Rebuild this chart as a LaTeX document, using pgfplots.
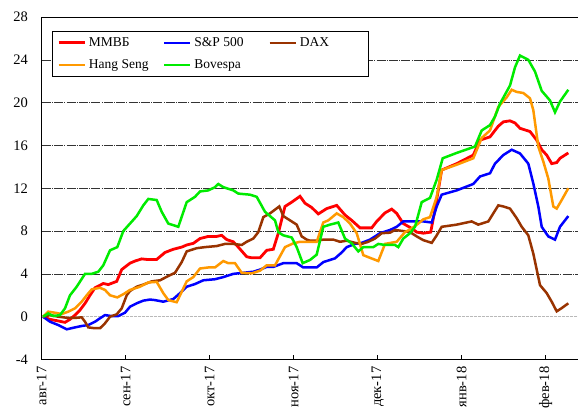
\documentclass[border=0pt]{standalone}
\usepackage{fontspec}
\setmainfont{Liberation Serif}
\usepackage{pgfplots}
\pgfplotsset{compat=1.18}
\definecolor{cRed}{RGB}{255,0,0}
\definecolor{cBlue}{RGB}{0,0,255}
\definecolor{cBrown}{RGB}{153,51,0}
\definecolor{cOrange}{RGB}{255,153,0}
\definecolor{cGreen}{RGB}{0,235,0}

\pgfplotstableread{
x y
5 0
12 -0.25
20.3 -0.4
27 -0.53
32 -0.25
37 0.15
42 0.62
47 1.24
52 2.0
57 2.7
65.3 3.1
70.3 3.0
78.7 3.3
83.7 4.4
92 5.0
97 5.2
103.7 5.4
108.7 5.35
118.7 5.35
127 6.0
135.3 6.3
143.7 6.5
148.7 6.7
155.3 6.85
162 7.3
170.3 7.5
178.7 7.5
183.7 7.6
188.7 7.2
195.3 7.0
200.3 6.5
208.7 5.6
213.7 5.5
222 5.5
228.7 6.2
235.3 6.3
240.3 7.8
247 10.3
253.7 10.7
262 11.25
267 10.6
273.7 10.2
280.3 9.6
288.7 10.1
298.7 10.4
307 9.5
313.7 9.0
322 8.3
333.7 8.3
338.7 8.9
347 9.7
353.7 10.05
358.7 9.65
365.3 8.7
373.7 8.25
378.7 7.9
385.3 7.8
392.7 7.9
397 10.0
403.7 13.7
418.7 14.3
435.3 15.1
442 16.5
452 16.8
460.3 17.8
465.3 18.2
472 18.3
477 18.1
482 17.6
492 17.3
498.7 16.5
503.7 15.6
508.7 15.1
513.7 14.3
518.7 14.4
522 14.8
530.3 15.3
}\mmvb

\pgfplotstableread{
x y
5 0
12 -0.47
20.3 -0.78
28.7 -1.18
37 -1.0
43.7 -0.87
50.3 -0.78
57 -0.47
62 -0.15
67 0.15
73.7 0.06
80.3 0.06
87 0.37
92 0.93
98.7 1.25
105.3 1.5
112 1.6
117 1.55
125.3 1.4
135.3 1.65
142 2.2
148.7 2.8
157 3.05
165.3 3.4
177 3.5
185.3 3.7
195.3 4.0
205.3 4.1
215.3 4.2
222 4.4
228.7 4.65
235.3 4.65
245.3 5.0
258.7 5.0
265.3 4.6
278.7 4.6
285.3 5.1
297 5.45
303.7 6.0
308.7 6.5
317 6.8
323.7 6.9
332 7.2
342 7.8
352 8.1
358.7 8.4
365.3 8.9
375.3 8.9
385.3 8.9
393.7 8.8
398.7 10.3
403.7 11.4
418.7 11.8
435.3 12.4
442 13.1
452 13.4
457 14.3
465.3 15.1
473.7 15.6
482 15.25
490.3 14.3
495.3 12.45
500.3 10.3
503.7 8.4
510.3 7.5
517 7.2
522 8.4
530.3 9.4
}\spx

\pgfplotstableread{
x y
5 0
12 0.15
20.3 0
28.7 -0.1
38.7 -0.1
43.7 -0.06
47 -0.47
50.3 -1.0
57 -1.08
62 -1.08
67 -0.62
72 0
78.7 0.22
83.7 0.78
88.7 2.0
92 2.4
98.7 2.8
105.3 3.0
113.7 3.3
122 3.4
130.3 3.8
137 4.1
143.7 5.1
148.7 6.1
158.7 6.4
167 6.5
178.7 6.6
187 6.8
195.3 6.8
203.7 6.7
208.7 7.0
215.3 7.3
220.3 7.9
225.3 9.3
232 9.65
237 10.0
241.3 10.3
245.3 9.4
252 9.0
258.7 8.6
263.7 7.5
268.7 7.2
272 7.1
278.7 7.1
285.3 7.2
295.3 7.2
302 7.0
308.7 7.1
317 6.9
323.7 6.8
330.3 7.0
337 7.3
343.7 7.8
352 7.85
357 8.1
365.3 8.0
372 7.9
378.7 7.5
385.3 7.15
393.7 6.9
398.7 7.6
403.7 8.4
418.7 8.6
433.7 8.9
440.3 8.6
450.3 8.9
455.3 9.65
460.3 10.4
465.3 10.3
472 10.1
478.7 9.2
483.7 8.4
490.3 7.6
495.3 5.9
502 2.95
508.7 2.2
513.7 1.4
518.7 0.5
523.7 0.8
530.3 1.25
}\dax

\pgfplotstableread{
x y
5 0
10.3 0.47
17 0.37
23.7 0.25
30.3 0.47
37 0.78
43.7 1.4
48.7 2.0
53.7 2.55
62 2.7
67 2.5
72 2.0
79.3 1.8
85.3 2.1
92 2.5
102 2.8
110.3 3.2
118.7 3.25
125.3 2.2
130.3 1.55
138.7 1.35
148.7 3.3
155.3 3.7
162 4.5
170.3 4.6
177 4.6
185.3 5.2
190.3 5.0
197 5.0
203.7 4.1
213.7 4.05
222 4.3
228.7 4.8
237 4.8
247 6.5
255.3 6.85
262 7.0
278.7 7.0
285.3 8.8
290.3 9.0
298.7 9.65
305.3 9.3
312 8.7
318.7 7.8
325.3 5.75
332 5.5
340.3 5.2
347 6.8
358.7 7.0
367 7.9
373.7 8.25
380.3 8.7
385.3 9.1
392 9.3
398.7 11.2
403.7 13.7
418.7 14.2
435.3 14.8
443.7 16.7
452 17.4
460.3 19.6
468.7 20.5
473.7 21.2
478.7 21.0
485.3 20.9
492 20.4
495.3 19.3
500.3 15.9
505.3 14.5
510.3 12.9
515.3 10.3
518.7 10.1
523.7 10.9
530.3 12.0
}\hangseng

\pgfplotstableread{
x y
5 0
10.3 0.3
15.3 0.06
22 0.15
27 0.78
32 2.0
38.7 2.8
47 4.0
53.7 4.0
60.3 4.2
65.3 4.8
72 6.2
79.3 6.5
85.3 8.0
92 8.7
98.7 9.4
105.3 10.4
110.3 11.0
118.7 10.9
123.7 9.8
130.3 8.7
140.3 8.4
148.7 10.7
157 11.2
162 11.7
170.3 11.8
177 12.1
180.3 12.4
185.3 12.1
195.3 11.8
200.3 11.5
212 11.4
218.7 11.2
227 9.8
237 9.0
240.3 7.9
245.3 7.6
253.7 7.4
258.7 6.5
264.7 5.0
272 5.3
278.7 5.8
285.3 8.4
292 8.6
300.3 8.8
307 7.3
313.7 6.85
320.3 6.1
325.3 6.5
335.3 6.5
340.3 6.8
347 6.7
357 6.7
360.3 6.5
365.3 7.3
372 7.8
377 8.4
383.7 10.7
392 11.1
398.7 12.8
404.7 14.8
418.7 15.3
437 15.9
443.7 17.4
452 17.9
457 18.7
462 19.9
472 21.6
477 23.3
482 24.4
490.3 24.0
497 22.9
503.7 21.1
512 20.2
517 19.1
522 20.1
530.3 21.2
}\bovespa

\begin{document}
\begin{tikzpicture}
\begin{axis}[
  scale only axis,
  width=542.3pt, height=342.5pt,
  xmin=3.7, xmax=546, ymin=-4, ymax=28,
  axis x line*=bottom, axis y line*=left,
  axis line style={line width=1.4pt, -},
  xtick={3.7,87.7,171.7,255.7,339.7,423.7,507.7},
  xticklabels={авг-17,сен-17,окт-17,ноя-17,дек-17,янв-18,фев-18},
  xticklabel style={rotate=90, anchor=east, inner sep=0pt, xshift=-7pt, font=\fontsize{14.5}{16}\selectfont},
  ytick={-4,4,8,12,16,20,24,28},
  extra y ticks={0},
  extra y tick style={grid style={gray!55, line width=0.6pt, dash pattern=on 3pt off 1pt}},
  yticklabel style={anchor=east, inner sep=0pt, xshift=-13.5pt, font=\fontsize{14.5}{16}\selectfont},
  /pgf/number format/assume math mode=true,
  ymajorgrids,
  grid style={black!80, line width=0.6pt, dash pattern=on 9pt off 1.2pt on 1pt off 1.2pt},
  tick align=inside,
  major tick length=4.3pt,
  xtick style={black, line width=0.8pt},
  ytick style={draw=none},
  title={\textbf{\%}},
  title style={at={(0.5,1)}, anchor=base, inner sep=0pt, yshift=11pt, font=\fontsize{14.5}{16}\selectfont},
  legend columns=3,
  legend cell align=left,
  legend style={at={(0,1)}, anchor=north west, xshift=10pt, yshift=-14pt,
    draw=black, line width=0.8pt, fill=white,
    inner xsep=5pt, inner ysep=4.25pt,
    font=\fontsize{13.5}{15}\selectfont,
    nodes={inner sep=1pt, text height=9.5pt, text depth=3pt},
    row sep=7.5pt,
    /tikz/every odd column/.style={column sep=2pt},
    /tikz/every even column/.style={column sep=0pt}},
  legend image code/.code={\draw[#1] (0pt,0pt) -- (26pt,0pt);},
  clip=false,
]
\addplot[cRed, line width=2.8pt] table {\mmvb};
\addlegendentry{\makebox[73pt][l]{ММВБ}}
\addplot[cBlue, line width=2.5pt] table {\spx};
\addlegendentry{\makebox[73pt][l]{S\&P 500}}
\addplot[cBrown, line width=2.5pt] table {\dax};
\addlegendentry{\makebox[62pt][l]{DAX}}
\addplot[cOrange, line width=2.5pt] table {\hangseng};
\addlegendentry{\makebox[73pt][l]{Hang Seng}}
\addplot[cGreen, line width=2.5pt] table {\bovespa};
\addlegendentry{\makebox[73pt][l]{Bovespa}}
\draw[black, line width=0.7pt] (rel axis cs:0,1) -- (rel axis cs:1,1);
\end{axis}
\pgfresetboundingbox
\useasboundingbox (-41.7pt,-52.5pt) rectangle (536.3pt,359.5pt);
\end{tikzpicture}
\end{document}
